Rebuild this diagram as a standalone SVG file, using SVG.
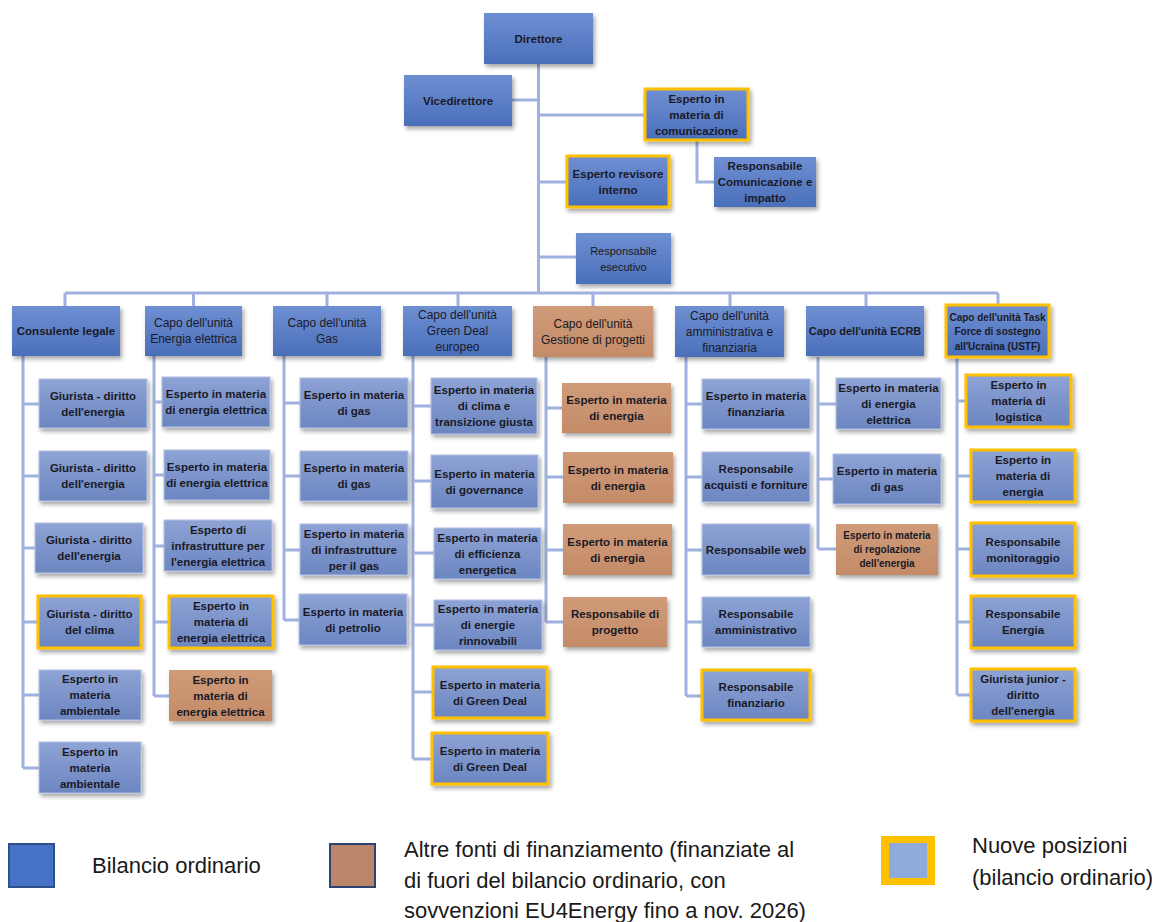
<svg xmlns="http://www.w3.org/2000/svg" width="1161" height="922" viewBox="0 0 1161 922">
<defs>
<linearGradient id="gHead" x1="0" y1="0" x2="0" y2="1"><stop offset="0" stop-color="#6f8fd3"/><stop offset="1" stop-color="#4a6fba"/></linearGradient>
<linearGradient id="gChild" x1="0" y1="0" x2="0" y2="1"><stop offset="0" stop-color="#8ea3d5"/><stop offset="1" stop-color="#6c86c1"/></linearGradient>
<linearGradient id="gBrown" x1="0" y1="0" x2="0" y2="1"><stop offset="0" stop-color="#d09b79"/><stop offset="1" stop-color="#c48b68"/></linearGradient>
<filter id="sh" x="-10%" y="-10%" width="130%" height="140%"><feDropShadow dx="2" dy="3" stdDeviation="2" flood-color="#000" flood-opacity="0.35"/></filter>
<style>
.hd{fill:url(#gHead);filter:url(#sh);}
.ch{fill:url(#gChild);stroke:#b3c1e4;stroke-width:1;filter:url(#sh);}
.br{fill:url(#gBrown);filter:url(#sh);}
.nw{stroke:#ffc000;stroke-width:3;}
.t{font-family:"Liberation Sans",Arial,sans-serif;font-size:11.5px;font-weight:bold;fill:#1a1a26;text-anchor:middle;}
.r{font-weight:normal;font-size:12px;}
.s{font-size:10px;}
.conn{fill:none;stroke:#9fb1de;stroke-width:3;}
.lg{font-family:"Liberation Sans",Arial,sans-serif;font-size:22px;fill:#1a1a1a;}
</style>
</defs>
<rect width="1161" height="922" fill="#ffffff"/>

<g id="connectors" class="conn">
<path d="M538.5 64V293M65 293H998"/>
<path d="M512 100H538.5M538.5 115H645M697 140V182H714M538.5 182H567M538.5 257H576"/>
<path d="M65 293V306M193.5 293V306M327 293V306M458 293V306M593 293V306M730 293V306M866 293V306M998 293V305"/>
<path d="M23 356V768M23 404H39M23 476H39M23 548H35M23 622H38M23 695H39M23 768H39"/>
<path d="M154 356V696M154 402H162M154 475H164M154 546H164M154 622H169M154 696H169"/>
<path d="M284 356V620M284 403H300M284 476H300M284 550H300M284 620H299"/>
<path d="M413 356V759M413 406H431M413 481H431M413 553H434M413 625H434M413 692H433M413 759H432"/>
<path d="M546 357V622M546 408H562M546 477H563M546 550H563M546 622H563"/>
<path d="M686 357V696M686 404H702M686 477H702M686 550H702M686 622H702M686 696H702"/>
<path d="M818 357V549M818 404H836M818 479H833M818 549H836"/>
<path d="M957 357V695M957 401H966M957 476H971M957 549H971M957 622H971M957 695H971"/>
</g>

<g id="direttore"><rect class="hd" x="484" y="13" width="109" height="51"/><text class="t" x="538.5" y="42.5">Direttore</text></g>
<g id="vicedirettore"><rect class="hd" x="404" y="75" width="108" height="51"/><text class="t" x="458" y="104.5">Vicedirettore</text></g>
<g id="comunicazione"><rect class="hd nw" x="645" y="89" width="103" height="51"/><text class="t" x="696.5" y="102.5"><tspan x="696.5">Esperto in</tspan><tspan x="696.5" dy="16">materia di</tspan><tspan x="696.5" dy="16">comunicazione</tspan></text></g>
<g id="resp-comunicazione"><rect class="hd" x="714" y="157" width="102" height="50"/><text class="t" x="765" y="170"><tspan x="765">Responsabile</tspan><tspan x="765" dy="16">Comunicazione e</tspan><tspan x="765" dy="16">impatto</tspan></text></g>
<g id="revisore"><rect class="hd nw" x="567" y="156" width="102" height="51"/><text class="t" x="618" y="177.5"><tspan x="618">Esperto revisore</tspan><tspan x="618" dy="16">interno</tspan></text></g>
<g id="esecutivo"><rect class="hd" x="576" y="233" width="95" height="51"/><text class="t r" x="623.5" y="254.5" style="font-size:11px"><tspan x="623.5">Responsabile</tspan><tspan x="623.5" dy="16">esecutivo</tspan></text></g>

<g id="h-legale"><rect class="hd" x="12" y="306" width="108" height="50"/><text class="t" x="66" y="335">Consulente legale</text></g>
<g id="h-elettrica"><rect class="hd" x="145" y="306" width="97" height="50"/><text class="t r" x="193.5" y="327"><tspan x="193.5">Capo dell'unità</tspan><tspan x="193.5" dy="16">Energia elettrica</tspan></text></g>
<g id="h-gas"><rect class="hd" x="273" y="306" width="108" height="50"/><text class="t r" x="327" y="327"><tspan x="327">Capo dell'unità</tspan><tspan x="327" dy="16">Gas</tspan></text></g>
<g id="h-greendeal"><rect class="hd" x="403" y="306" width="109" height="50"/><text class="t r" x="457.5" y="319"><tspan x="457.5">Capo dell'unità</tspan><tspan x="457.5" dy="16">Green Deal</tspan><tspan x="457.5" dy="16">europeo</tspan></text></g>
<g id="h-progetti"><rect class="br" x="533" y="306" width="120" height="51"/><text class="t r" x="593" y="327.5"><tspan x="593">Capo dell'unità</tspan><tspan x="593" dy="16">Gestione di progetti</tspan></text></g>
<g id="h-amministrativa"><rect class="hd" x="675" y="306" width="109" height="51"/><text class="t r" x="729.5" y="319.5"><tspan x="729.5">Capo dell'unità</tspan><tspan x="729.5" dy="16">amministrativa e</tspan><tspan x="729.5" dy="16">finanziaria</tspan></text></g>
<g id="h-ecrb"><rect class="hd" x="806" y="306" width="118" height="50"/><text class="t" x="865" y="335" style="font-size:11px">Capo dell'unità ECRB</text></g>
<g id="h-ustf"><rect class="hd nw" x="946" y="305" width="103" height="52"/><text class="t s" x="997.5" y="320.5"><tspan x="997.5">Capo dell'unità Task</tspan><tspan x="997.5" dy="14.5">Force di sostegno</tspan><tspan x="997.5" dy="14.5">all'Ucraina (USTF)</tspan></text></g>

<g id="c1a"><rect class="ch" x="39" y="379" width="108" height="49"/><text class="t" x="93" y="399.5"><tspan x="93">Giurista - diritto</tspan><tspan x="93" dy="16">dell'energia</tspan></text></g>
<g id="c1b"><rect class="ch" x="39" y="451" width="108" height="50"/><text class="t" x="93" y="472"><tspan x="93">Giurista - diritto</tspan><tspan x="93" dy="16">dell'energia</tspan></text></g>
<g id="c1c"><rect class="ch" x="35" y="523" width="108" height="50"/><text class="t" x="89" y="544"><tspan x="89">Giurista - diritto</tspan><tspan x="89" dy="16">dell'energia</tspan></text></g>
<g id="c1d"><rect class="ch nw" x="38" y="596" width="103" height="52"/><text class="t" x="89.5" y="618"><tspan x="89.5">Giurista - diritto</tspan><tspan x="89.5" dy="16">del clima</tspan></text></g>
<g id="c1e"><rect class="ch" x="39" y="670" width="102" height="50"/><text class="t" x="90" y="683"><tspan x="90">Esperto in</tspan><tspan x="90" dy="16">materia</tspan><tspan x="90" dy="16">ambientale</tspan></text></g>
<g id="c1f"><rect class="ch" x="39" y="742" width="102" height="51"/><text class="t" x="90" y="755.5"><tspan x="90">Esperto in</tspan><tspan x="90" dy="16">materia</tspan><tspan x="90" dy="16">ambientale</tspan></text></g>

<g id="c2a"><rect class="ch" x="162" y="377" width="108" height="50"/><text class="t" x="216" y="398"><tspan x="216">Esperto in materia</tspan><tspan x="216" dy="16">di energia elettrica</tspan></text></g>
<g id="c2b"><rect class="ch" x="164" y="450" width="106" height="50"/><text class="t" x="217" y="471"><tspan x="217">Esperto in materia</tspan><tspan x="217" dy="16">di energia elettrica</tspan></text></g>
<g id="c2c"><rect class="ch" x="164" y="520" width="108" height="51"/><text class="t" x="218" y="533.5"><tspan x="218">Esperto di</tspan><tspan x="218" dy="16">infrastrutture per</tspan><tspan x="218" dy="16">l'energia elettrica</tspan></text></g>
<g id="c2d"><rect class="ch nw" x="169" y="596" width="104" height="52"/><text class="t" x="221" y="610"><tspan x="221">Esperto in</tspan><tspan x="221" dy="16">materia di</tspan><tspan x="221" dy="16">energia elettrica</tspan></text></g>
<g id="c2e"><rect class="br" x="169" y="670" width="103" height="51"/><text class="t" x="220.5" y="683.5"><tspan x="220.5">Esperto in</tspan><tspan x="220.5" dy="16">materia di</tspan><tspan x="220.5" dy="16">energia elettrica</tspan></text></g>

<g id="c3a"><rect class="ch" x="300" y="378" width="108" height="50"/><text class="t" x="354" y="399"><tspan x="354">Esperto in materia</tspan><tspan x="354" dy="16">di gas</tspan></text></g>
<g id="c3b"><rect class="ch" x="300" y="451" width="108" height="50"/><text class="t" x="354" y="472"><tspan x="354">Esperto in materia</tspan><tspan x="354" dy="16">di gas</tspan></text></g>
<g id="c3c"><rect class="ch" x="300" y="524" width="108" height="51"/><text class="t" x="354" y="537.5"><tspan x="354">Esperto in materia</tspan><tspan x="354" dy="16">di infrastrutture</tspan><tspan x="354" dy="16">per il gas</tspan></text></g>
<g id="c3d"><rect class="ch" x="299" y="594" width="108" height="51"/><text class="t" x="353" y="615.5"><tspan x="353">Esperto in materia</tspan><tspan x="353" dy="16">di petrolio</tspan></text></g>

<g id="c4a"><rect class="ch" x="431" y="378" width="106" height="56"/><text class="t" x="484" y="394"><tspan x="484">Esperto in materia</tspan><tspan x="484" dy="16">di clima e</tspan><tspan x="484" dy="16">transizione giusta</tspan></text></g>
<g id="c4b"><rect class="ch" x="431" y="455" width="107" height="53"/><text class="t" x="484.5" y="477.5"><tspan x="484.5">Esperto in materia</tspan><tspan x="484.5" dy="16">di governance</tspan></text></g>
<g id="c4c"><rect class="ch" x="434" y="528" width="107" height="51"/><text class="t" x="487.5" y="541.5"><tspan x="487.5">Esperto in materia</tspan><tspan x="487.5" dy="16">di efficienza</tspan><tspan x="487.5" dy="16">energetica</tspan></text></g>
<g id="c4d"><rect class="ch" x="434" y="600" width="108" height="50"/><text class="t" x="488" y="613"><tspan x="488">Esperto in materia</tspan><tspan x="488" dy="16">di energie</tspan><tspan x="488" dy="16">rinnovabili</tspan></text></g>
<g id="c4e"><rect class="ch nw" x="433" y="667" width="114" height="51"/><text class="t" x="490" y="688.5"><tspan x="490">Esperto in materia</tspan><tspan x="490" dy="16">di Green Deal</tspan></text></g>
<g id="c4f"><rect class="ch nw" x="432" y="733" width="116" height="51"/><text class="t" x="490" y="754.5"><tspan x="490">Esperto in materia</tspan><tspan x="490" dy="16">di Green Deal</tspan></text></g>

<g id="c5a"><rect class="br" x="562" y="383" width="109" height="50"/><text class="t" x="616.5" y="404"><tspan x="616.5">Esperto in materia</tspan><tspan x="616.5" dy="16">di energia</tspan></text></g>
<g id="c5b"><rect class="br" x="563" y="452" width="110" height="51"/><text class="t" x="618" y="473.5"><tspan x="618">Esperto in materia</tspan><tspan x="618" dy="16">di energia</tspan></text></g>
<g id="c5c"><rect class="br" x="563" y="524" width="109" height="51"/><text class="t" x="617.5" y="545.5"><tspan x="617.5">Esperto in materia</tspan><tspan x="617.5" dy="16">di energia</tspan></text></g>
<g id="c5d"><rect class="br" x="563" y="597" width="104" height="50"/><text class="t" x="615" y="618"><tspan x="615">Responsabile di</tspan><tspan x="615" dy="16">progetto</tspan></text></g>

<g id="c6a"><rect class="ch" x="702" y="379" width="108" height="50"/><text class="t" x="756" y="400"><tspan x="756">Esperto in materia</tspan><tspan x="756" dy="16">finanziaria</tspan></text></g>
<g id="c6b"><rect class="ch" x="702" y="452" width="108" height="50"/><text class="t" x="756" y="473"><tspan x="756">Responsabile</tspan><tspan x="756" dy="16">acquisti e forniture</tspan></text></g>
<g id="c6c"><rect class="ch" x="702" y="524" width="108" height="51"/><text class="t" x="756" y="553.5">Responsabile web</text></g>
<g id="c6d"><rect class="ch" x="702" y="597" width="108" height="50"/><text class="t" x="756" y="618"><tspan x="756">Responsabile</tspan><tspan x="756" dy="16">amministrativo</tspan></text></g>
<g id="c6e"><rect class="ch nw" x="702" y="670" width="108" height="50"/><text class="t" x="756" y="691"><tspan x="756">Responsabile</tspan><tspan x="756" dy="16">finanziario</tspan></text></g>

<g id="c7a"><rect class="ch" x="836" y="378" width="105" height="51"/><text class="t" x="888.5" y="391.5"><tspan x="888.5">Esperto in materia</tspan><tspan x="888.5" dy="16">di energia</tspan><tspan x="888.5" dy="16">elettrica</tspan></text></g>
<g id="c7b"><rect class="ch" x="833" y="454" width="108" height="50"/><text class="t" x="887" y="475"><tspan x="887">Esperto in materia</tspan><tspan x="887" dy="16">di gas</tspan></text></g>
<g id="c7c"><rect class="br" x="836" y="524" width="102" height="51"/><text class="t s" x="887" y="539"><tspan x="887">Esperto in materia</tspan><tspan x="887" dy="14">di regolazione</tspan><tspan x="887" dy="14">dell'energia</tspan></text></g>

<g id="c8a"><rect class="ch nw" x="966" y="375" width="105" height="52"/><text class="t" x="1018.5" y="389"><tspan x="1018.5">Esperto in</tspan><tspan x="1018.5" dy="16">materia di</tspan><tspan x="1018.5" dy="16">logistica</tspan></text></g>
<g id="c8b"><rect class="ch nw" x="971" y="450" width="104" height="52"/><text class="t" x="1023" y="464"><tspan x="1023">Esperto in</tspan><tspan x="1023" dy="16">materia di</tspan><tspan x="1023" dy="16">energia</tspan></text></g>
<g id="c8c"><rect class="ch nw" x="971" y="523" width="104" height="53"/><text class="t" x="1023" y="545.5"><tspan x="1023">Responsabile</tspan><tspan x="1023" dy="16">monitoraggio</tspan></text></g>
<g id="c8d"><rect class="ch nw" x="971" y="596" width="104" height="52"/><text class="t" x="1023" y="618"><tspan x="1023">Responsabile</tspan><tspan x="1023" dy="16">Energia</tspan></text></g>
<g id="c8e"><rect class="ch nw" x="971" y="669" width="104" height="52"/><text class="t" x="1023" y="683"><tspan x="1023">Giurista junior -</tspan><tspan x="1023" dy="16">diritto</tspan><tspan x="1023" dy="16">dell'energia</tspan></text></g>

<g id="legend">
<rect x="9" y="844" width="45" height="43" fill="#4472c4" stroke="#2f4f8a" stroke-width="2"/>
<text class="lg" x="92" y="873">Bilancio ordinario</text>
<rect x="330" y="844" width="45" height="43" fill="#bd866a" stroke="#2f4370" stroke-width="2"/>
<text class="lg" x="404" y="857">Altre fonti di finanziamento (finanziate al</text>
<text class="lg" x="404" y="888">di fuori del bilancio ordinario, con</text>
<text class="lg" x="404" y="918">sovvenzioni EU4Energy fino a nov. 2026)</text>
<rect x="881" y="836" width="54" height="49" fill="#ffc000"/>
<rect x="889" y="843" width="38" height="35" fill="#8faadc"/>
<text class="lg" x="972" y="853">Nuove posizioni</text>
<text class="lg" x="972" y="885">(bilancio ordinario)</text>
</g>
</svg>
